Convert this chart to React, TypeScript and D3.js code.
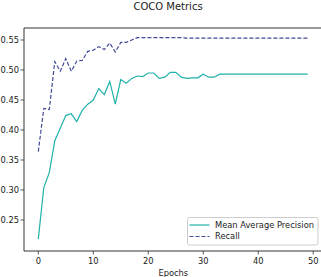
import React from "react";
import * as d3 from "d3";

const epochs: number[] = Array.from({ length: 50 }, (_, i) => i);
const mapValues: number[] = [
  0.218, 0.304, 0.329, 0.382, 0.403, 0.424, 0.427, 0.414, 0.433, 0.443,
  0.450, 0.469, 0.459, 0.481, 0.443, 0.484, 0.478, 0.486, 0.490, 0.489,
  0.495, 0.495, 0.486, 0.488, 0.496, 0.496, 0.488, 0.486, 0.487, 0.487,
  0.493, 0.488, 0.488, 0.493, 0.493, 0.493, 0.493, 0.493, 0.493, 0.493,
  0.493, 0.493, 0.493, 0.493, 0.493, 0.493, 0.493, 0.493, 0.493, 0.493,
];
const recallValues: number[] = [
  0.364, 0.436, 0.434, 0.514, 0.498, 0.519, 0.498, 0.515, 0.516, 0.531,
  0.533, 0.539, 0.534, 0.545, 0.530, 0.546, 0.546, 0.550, 0.554, 0.554,
  0.554, 0.554, 0.554, 0.554, 0.554, 0.554, 0.554, 0.553, 0.553, 0.553,
  0.553, 0.553, 0.553, 0.553, 0.553, 0.553, 0.553, 0.553, 0.553, 0.553,
  0.553, 0.553, 0.553, 0.553, 0.553, 0.553, 0.553, 0.553, 0.553, 0.553,
];
const xTicks: number[] = [0, 10, 20, 30, 40, 50];
const yTicks: number[] = [0.25, 0.3, 0.35, 0.4, 0.45, 0.5, 0.55];
const seriesNames: string[] = ["Mean Average Precision", "Recall"];

const W = 321;
const H = 277;
const left = 24, right = 322, top = 28, bottom = 251;
const font = "DejaVu Sans, sans-serif";

export default function App() {
  const x = d3.scaleLinear().domain([-2.6, 51.6]).range([left, right]);
  const y = d3.scaleLinear().domain([0.1983, 0.57]).range([bottom, top]);
  const line = d3
    .line<number>()
    .x((_, i) => x(epochs[i]))
    .y((d) => y(d));
  const mapColor = "#20b2aa";
  const recColor = "#434a98";
  return (
    <svg
      width={W}
      height={H}
      style={{ position: "absolute", left: 0, top: 0, background: "#fff" }}
      fontFamily={font}
    >
      <text x={168} y={9.5} fontSize={10} textAnchor="middle" fill="#222">
        COCO Metrics
      </text>
      <path d={line(mapValues) || ""} fill="none" stroke={mapColor} strokeWidth={1.2} />
      <path
        d={line(recallValues) || ""}
        fill="none"
        stroke={recColor}
        strokeWidth={1.2}
        strokeDasharray="4,2"
      />
      {/* spines */}
      <line x1={left} x2={W} y1={top} y2={top} stroke="#333" strokeWidth={1} />
      <line x1={left} x2={left} y1={top} y2={bottom} stroke="#333" strokeWidth={1} />
      <line x1={left} x2={W} y1={bottom} y2={bottom} stroke="#333" strokeWidth={1} />
      {yTicks.map((t) => (
        <g key={"y" + t}>
          <line x1={left - 3.5} x2={left} y1={y(t)} y2={y(t)} stroke="#333" strokeWidth={0.8} />
          <text x={left - 5} y={y(t)} dy="0.35em" fontSize={8.3} textAnchor="end" fill="#222">
            {t.toFixed(2)}
          </text>
        </g>
      ))}
      {xTicks.map((t) => (
        <g key={"x" + t}>
          <line x1={x(t)} x2={x(t)} y1={bottom} y2={bottom + 3.5} stroke="#333" strokeWidth={0.8} />
          <text x={x(t)} y={bottom + 12.5} fontSize={8.3} textAnchor="middle" fill="#222">
            {t}
          </text>
        </g>
      ))}
      <text x={173.3} y={275.5} fontSize={8.3} textAnchor="middle" fill="#222">
        Epochs
      </text>
      {/* legend */}
      <rect x={187.5} y={217.5} width={130.5} height={27.5} rx={2} fill="#fff" fillOpacity={0.8} stroke="#ccc" strokeWidth={1} />
      {seriesNames.map((name, i) => (
        <g key={name}>
          <line
            x1={189.5}
            x2={209.5}
            y1={225 + i * 11.5}
            y2={225 + i * 11.5}
            stroke={i === 0 ? mapColor : recColor}
            strokeWidth={1.2}
            strokeDasharray={i === 0 ? undefined : "4,2"}
          />
          <text x={215} y={225 + i * 11.5} dy="0.35em" fontSize={8.3} fill="#222">
            {name}
          </text>
        </g>
      ))}
    </svg>
  );
}
